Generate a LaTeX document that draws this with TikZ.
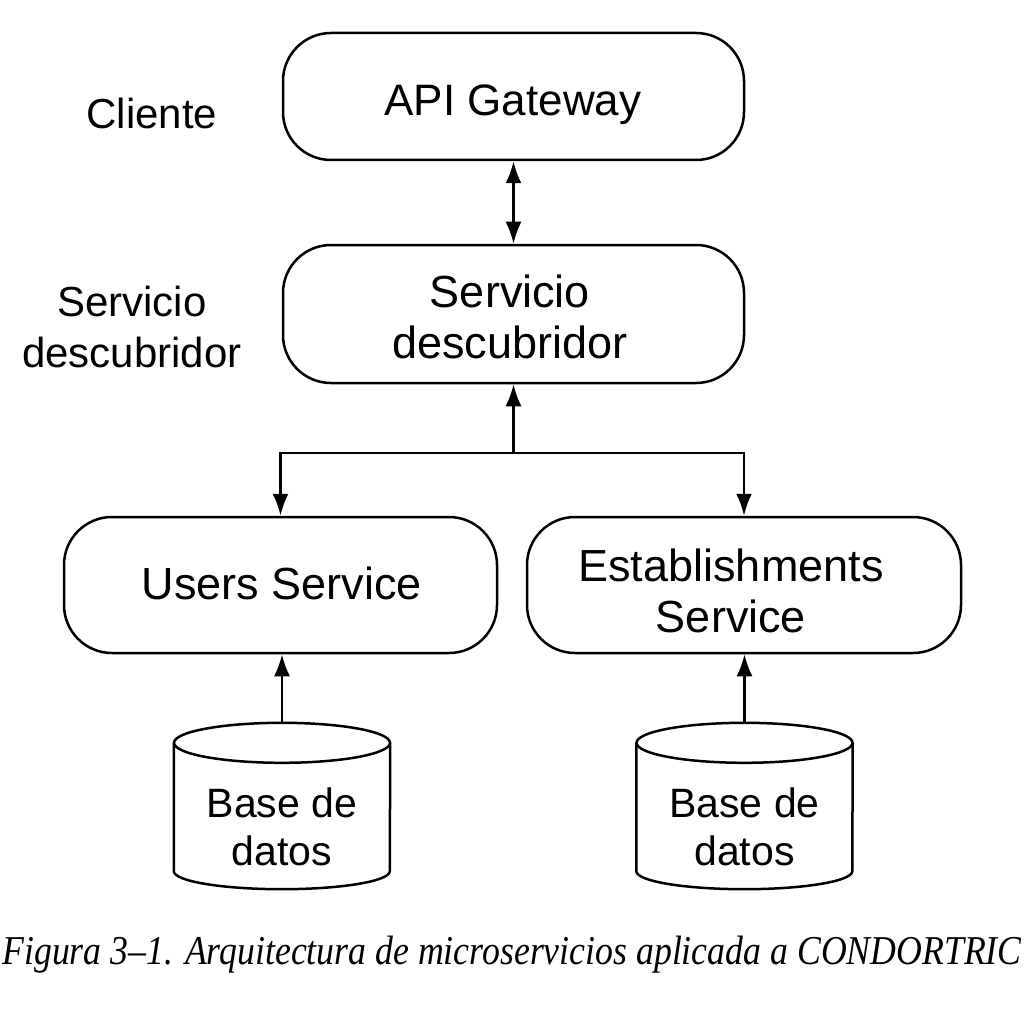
\documentclass[tikz,border=0pt]{standalone}
\usepackage{fontspec}
\usepackage{graphicx}
\setmainfont{Liberation Sans}
\newfontfamily\capfont{Liberation Serif}
\usetikzlibrary{arrows.meta}
\begin{document}
\begin{tikzpicture}[x=1pt,y=-1pt,
  box/.style={draw,line width=2.5pt,rounded corners=48pt,minimum width=461pt,minimum height=127pt,inner sep=0pt},
  boxtext/.style={align=center,inner sep=0pt,font=\fontsize{45}{51}\selectfont},
  lbl/.style={align=center,font=\fontsize{42}{51}\selectfont},
  conn/.style={line width=2.5pt,-{Latex[length=22pt,width=16pt]}},
  dconn/.style={line width=2.5pt,{Latex[length=22pt,width=16pt]}-{Latex[length=22pt,width=16pt]}},
  dbn/.style={minimum width=216pt,minimum height=166pt,inner sep=0pt},
  dbline/.style={line width=2.5pt},
  dbtext/.style={align=center,font=\fontsize{41}{48}\selectfont},
]
\clip (0,0) rectangle (1024,1024);
\fill[white] (0,0) rectangle (1024,1024);

\node[box] (api) at (513.5,96.5) {};
\node[boxtext,font=\fontsize{44}{51}\selectfont] (apit) at (513,104.5) {API Gateway};
\node[box,minimum height=138pt] (disc) at (513.5,314) {};
\node[boxtext] (disct) at (510,317) {Servicio\\descubridor};
\node[box,minimum width=433pt,minimum height=136pt] (users) at (280.5,585) {};
\node[boxtext] (userst) at (282,583) {Users Service};
\node[box,minimum width=434pt,minimum height=136pt] (est) at (744,585) {};
\node[boxtext] (estt) at (731,591) {Establishments\\Service};

\node[lbl] (cli) at (152,113) {Cliente};
\node[lbl] (sdl) at (132,327) {Servicio\\descubridor};

\newcommand\dbcyl[2]{%
  \node[dbn] (#1) at (#2,806) {};
  \draw[dbline] ([yshift=-20pt]#1.north west) -- ([yshift=18pt]#1.south west)
     arc[start angle=180,end angle=360,x radius=108pt,y radius=18pt]
     -- ([yshift=-20pt]#1.north east);
  \draw[dbline] ([yshift=-20pt]#1.north) ellipse[x radius=108pt,y radius=20pt];
  \node[dbtext] (#1t) at (#2,827) {Base de\\datos};
}
\dbcyl{db1}{282}
\dbcyl{db2}{744.5}

\draw[dconn] (api.south) -- (disc.north);
\coordinate (j) at (513.5,453);
\draw[conn] (j) -- (disc.south);
\draw[conn] (j) -| (users.north);
\draw[conn] (j) -| (est.north);
\draw[conn] (db1.north) -- (db1.north |- users.south);
\draw[conn] (db2.north) -- (db2.north |- est.south);

\node[font=\capfont\itshape\fontsize{41}{41}\selectfont,inner sep=0pt] (cap) at (512,955)
  {\scalebox{0.872}[1]{Figura 3–1. Arquitectura de microservicios aplicada a CONDORTRIC}};
\end{tikzpicture}
\end{document}
